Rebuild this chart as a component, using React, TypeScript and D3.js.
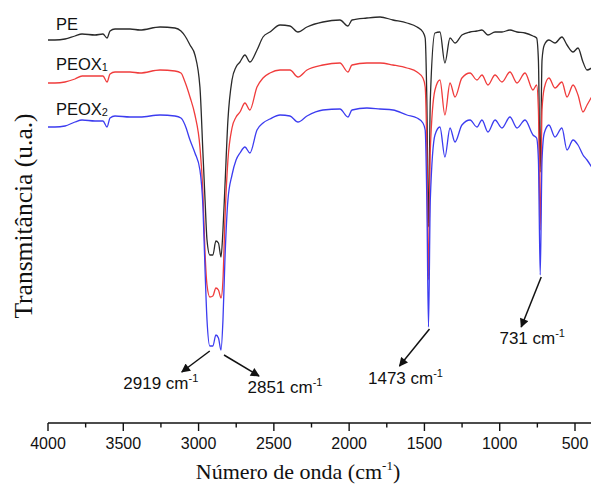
import React, {useEffect, useRef} from 'react';
import * as d3 from "d3";

// FTIR spectra, wavenumber in cm-1, transmittance in arbitrary units (curves are offset)
const wavenumber = [4000, 3954, 3887, 3821, 3774, 3688, 3635, 3608, 3588, 3555, 3455, 3389, 3256, 3157, 3117, 3090,
    3057, 3024, 2991, 2971, 2957, 2944, 2925, 2905, 2885, 2868, 2851, 2838, 2825, 2805, 2778, 2751, 2725, 2692, 2659,
    2612, 2572, 2526, 2459, 2393, 2340, 2280, 2174, 2061, 2008, 1981, 1882, 1795, 1709, 1616, 1549, 1510, 1495, 1484,
    1473, 1461, 1430, 1397, 1364, 1330, 1297, 1251, 1197, 1151, 1118, 1078, 1031, 985, 932, 885, 832, 779, 755, 743,
    731, 719, 704, 673, 633, 587, 553, 513, 480, 447, 420, 390];
const pe = [320, 320, 321, 324, 326, 325, 326, 322, 329, 331, 331, 330, 333, 332, 329, 324,
    315, 305, 273, 207, 160, 120, 105, 105, 119, 117, 103, 130, 173, 240, 280, 293, 298, 305, 298,
    310, 323, 328, 335, 334, 328, 333, 338, 340, 334, 340, 342, 343, 340, 337, 333, 328, 322, 260,
    133, 260, 327, 328, 297, 322, 317, 325, 328, 329, 330, 325, 328, 328, 330, 328, 327, 324, 322, 300,
    188, 300, 315, 320, 317, 323, 315, 308, 312, 298, 290, 292];
const peox1 = [277, 277, 278, 281, 284, 284, 284, 278, 286, 288, 288, 287, 290, 289, 287, 278,
    263, 245, 213, 167, 107, 75, 63, 64, 72, 70, 62, 80, 140, 200, 232, 243, 248, 257, 250,
    273, 282, 287, 290, 290, 283, 290, 295, 297, 288, 295, 297, 297, 295, 292, 288, 282, 273, 210,
    80, 210, 270, 280, 245, 277, 263, 282, 287, 280, 285, 275, 285, 278, 288, 277, 287, 270, 275, 250,
    130, 250, 272, 282, 272, 278, 263, 275, 265, 248, 255, 263];
const peox2 = [233, 233, 234, 238, 240, 239, 239, 233, 242, 244, 243, 243, 245, 244, 242, 235,
    220, 207, 190, 153, 90, 40, 14, 14, 25, 22, 10, 40, 100, 160, 185, 200, 207, 213, 207,
    230, 237, 241, 245, 244, 238, 244, 250, 251, 243, 250, 252, 251, 250, 245, 242, 237, 230, 160,
    33, 160, 225, 233, 203, 232, 218, 235, 240, 233, 240, 228, 240, 232, 243, 232, 240, 225, 222, 200,
    85, 200, 227, 235, 223, 232, 210, 220, 215, 205, 200, 193];

const seriesNames = ["PE", "PEOX", "PEOX"];
const seriesSubs = ["", "1", "2"];
const seriesColors = ["#2a2a2a", "#f03c3c", "#3c3cf0"];

const xTicks = [4000, 3500, 3000, 2500, 2000, 1500, 1000, 500];
const xMinorTicks = [3750, 3250, 2750, 2250, 1750, 1250, 750];

const peakLabels = [2919, 2851, 1473, 731];
const peakPoints = [2925, 2851, 1473, 731];

function App() {
    const ref = useRef<SVGSVGElement>(null);
    const width = 591;
    const height = 491;

    useEffect(() => {
        const svg = d3.select(ref.current);
        svg.selectAll("*").remove();

        const x = d3.scaleLinear().domain([4000, 500]).range([48, 575]);
        const y = d3.scaleLinear().domain([0, 350]).range([360, 10]);

        const defs = svg.append("defs");
        defs.append("clipPath").attr("id", "plot-clip")
            .append("rect").attr("x", 0).attr("y", 0).attr("width", width).attr("height", 415);
        defs.append("marker")
            .attr("id", "arrow")
            .attr("viewBox", "0 0 10 10")
            .attr("refX", 9).attr("refY", 5)
            .attr("markerWidth", 10).attr("markerHeight", 9)
            .attr("markerUnits", "userSpaceOnUse")
            .attr("orient", "auto")
            .append("path").attr("d", "M0,0 L10,5 L0,10 Z").attr("fill", "#111");

        // spectra
        const all = [pe, peox1, peox2];
        const line = d3.line<number>()
            .x((d, i) => x(wavenumber[i]))
            .y(d => y(d))
            .curve(d3.curveMonotoneX);
        const g = svg.append("g").attr("clip-path", "url(#plot-clip)");
        all.forEach((s, k) => {
            g.append("path")
                .attr("d", line(s))
                .attr("fill", "none")
                .attr("stroke", seriesColors[k])
                .attr("stroke-width", 1.3)
                .attr("stroke-linejoin", "round");
        });

        // series labels
        const labelY = [30, 70, 115];
        seriesNames.forEach((n, k) => {
            const t = svg.append("text")
                .attr("x", 56).attr("y", labelY[k])
                .attr("font-family", "'Liberation Sans', Arial, sans-serif")
                .attr("font-size", 16.5)
                .attr("fill", "#111")
                .text(n);
            if (seriesSubs[k]) {
                t.append("tspan").attr("font-size", 11).attr("dy", 1).text(seriesSubs[k]);
            }
        });

        // peak annotations (arrow offsets and label positions are layout only)
        const startShift = [[-1, 5], [3, 5], [1, 2], [1, 2]];
        const arrowOffsets = [[-28, 21], [35, 21], [-30, 37], [-20, 50]];
        const textOffsets = [[-21, 17], [26, 17], [6, 18], [11, 17]];
        peakLabels.forEach((p, k) => {
            const i = wavenumber.indexOf(peakPoints[k]);
            const x0 = x(p) + startShift[k][0];
            const y0 = y(peox2[i]) + startShift[k][1];
            const x1 = x0 + arrowOffsets[k][0];
            const y1 = y0 + arrowOffsets[k][1];
            svg.append("line")
                .attr("x1", x0).attr("y1", y0).attr("x2", x1).attr("y2", y1)
                .attr("stroke", "#111").attr("stroke-width", 1.5)
                .attr("marker-end", "url(#arrow)");
            const t = svg.append("text")
                .attr("x", x1 + textOffsets[k][0]).attr("y", y1 + textOffsets[k][1])
                .attr("text-anchor", "middle")
                .attr("font-family", "'Liberation Sans', Arial, sans-serif")
                .attr("font-size", 17)
                .attr("fill", "#111")
                .text(p + " cm");
            t.append("tspan").attr("font-size", 11).attr("dy", -7).text("-1");
        });

        // x axis
        const axisY = 423;
        const ax = svg.append("g").attr("transform", `translate(0,${axisY})`);
        ax.append("line").attr("x1", 48).attr("x2", width).attr("y1", 0).attr("y2", 0)
            .attr("stroke", "#111").attr("stroke-width", 1.6);
        ax.selectAll(".major").data(xTicks).enter().append("line")
            .attr("x1", d => x(d)).attr("x2", d => x(d)).attr("y1", 0).attr("y2", 8)
            .attr("stroke", "#111").attr("stroke-width", 1.4);
        ax.selectAll(".minor").data(xMinorTicks).enter().append("line")
            .attr("x1", d => x(d)).attr("x2", d => x(d)).attr("y1", 0).attr("y2", 4.5)
            .attr("stroke", "#111").attr("stroke-width", 1.4);
        ax.selectAll(".lbl").data(xTicks).enter().append("text")
            .attr("x", d => x(d)).attr("y", 26)
            .attr("text-anchor", "middle")
            .attr("font-family", "'Liberation Sans', Arial, sans-serif")
            .attr("font-size", 16)
            .attr("fill", "#111")
            .text(d => d);

        const title = svg.append("text")
            .attr("x", 298).attr("y", 479)
            .attr("text-anchor", "middle")
            .attr("font-family", "'Liberation Serif', 'Times New Roman', serif")
            .attr("font-size", 22)
            .attr("fill", "#111")
            .text("Número de onda (cm");
        title.append("tspan").attr("font-size", 13).attr("dy", -9).text("-1");
        title.append("tspan").attr("dy", 9).text(")");

        svg.append("text")
            .attr("transform", "translate(32,216) rotate(-90)")
            .attr("text-anchor", "middle")
            .attr("font-family", "'Liberation Serif', 'Times New Roman', serif")
            .attr("font-size", 25.5)
            .attr("fill", "#111")
            .text("Transmitância (u.a.)");
    }, []);

    return (
        <div style={{position: "absolute", left: 0, top: 0}}>
            <svg ref={ref} width={width} height={height} style={{display: "block", background: "#fff"}}/>
        </div>
    );
}

export default App;
